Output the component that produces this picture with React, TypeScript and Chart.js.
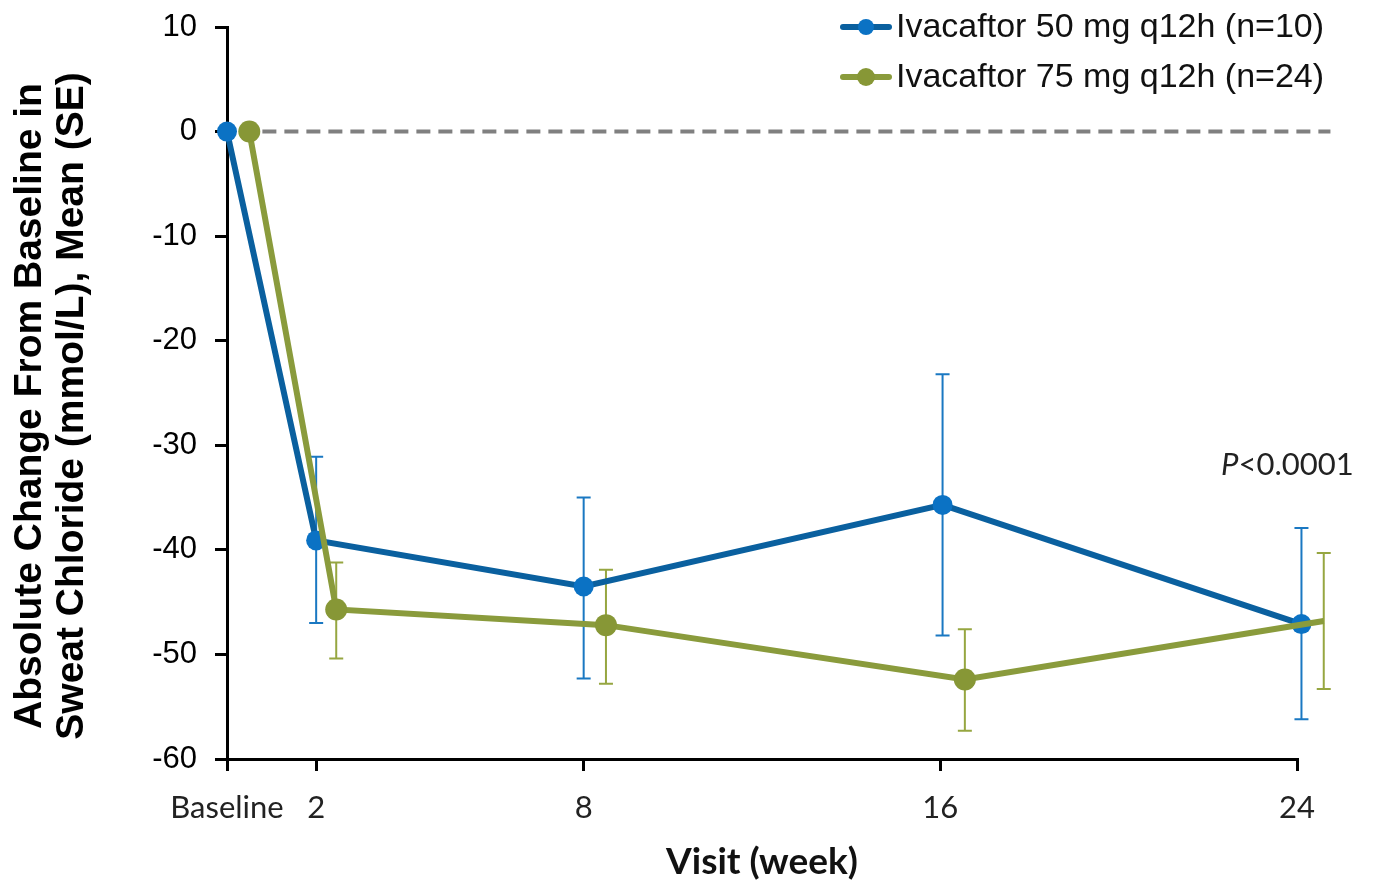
import React, { useEffect, useRef } from "react";
import { Chart, registerables } from "chart.js";

Chart.register(...registerables);

// ---- data ----
const weeks = [0, 2, 8, 16, 24];
const weekLabels = ["Baseline", "2", "8", "16", "24"];
const yTicks = [10, 0, -10, -20, -30, -40, -50, -60];

const seriesNames = ["Ivacaftor 50 mg q12h (n=10)", "Ivacaftor 75 mg q12h (n=24)"];
const yTitle = ["Absolute Change From Baseline in", "Sweat Chloride (mmol/L), Mean (SE)"];
const xTitle = "Visit (week)";

// plotted positions (weeks), green series slightly offset as in the source
const blueX = [0, 2, 8, 16.05, 24.1];
const greenX = [0.5, 2.45, 8.5, 16.55, 24.6];

const blueMean = [0, -39.1, -43.5, -35.7, -47.1];
const blueUpper = [null, -31.1, -35.0, -23.2, -37.9];
const blueLower = [null, -47.0, -52.3, -48.2, -56.2];

const greenMean = [0, -45.7, -47.2, -52.4, -46.8];
const greenUpper = [null, -41.2, -41.9, -47.6, -40.3];
const greenLower = [null, -50.4, -52.8, -57.3, -53.3];

const pText = ["P", "<0.0001"];

// ---- styles ----
const BLUE_LINE = "#0a609f";
const BLUE_MARK = "#0b72c4";
const BLUE_ERR = "#1a78c2";
const GREEN_LINE = "#8a9b3c";
const GREEN_MARK = "#879736";
const GREEN_ERR = "#96a641";

const ARIAL = "'Liberation Sans', Arial, sans-serif";
const CALIBRI = "Lato, 'Open Sans', sans-serif";

export default function App() {
  const ref = useRef<HTMLCanvasElement>(null);

  useEffect(() => {
    document.body.style.margin = "0";
    const canvas = ref.current!;

    const errorBars = {
      id: "errorBars",
      beforeDatasetsDraw(chart: any) {
        const { ctx } = chart;
        const xs = chart.scales.x;
        const ys = chart.scales.y;
        const draw = (xArr: number[], up: (number | null)[], lo: (number | null)[], color: string) => {
          ctx.save();
          ctx.strokeStyle = color;
          ctx.lineWidth = 2;
          for (let i = 0; i < xArr.length; i++) {
            const u = up[i];
            const l = lo[i];
            if (u == null || l == null) continue;
            const px = xs.getPixelForValue(xArr[i]);
            const pu = ys.getPixelForValue(u);
            const pl = ys.getPixelForValue(l);
            ctx.beginPath();
            ctx.moveTo(px, pu);
            ctx.lineTo(px, pl);
            ctx.moveTo(px - 7, pu);
            ctx.lineTo(px + 7, pu);
            ctx.moveTo(px - 7, pl);
            ctx.lineTo(px + 7, pl);
            ctx.stroke();
          }
          ctx.restore();
        };
        draw(blueX, blueUpper, blueLower, BLUE_ERR);
        draw(greenX, greenUpper, greenLower, GREEN_ERR);
      },
    };

    const overlay = {
      id: "overlay",
      afterDraw(chart: any) {
        const { ctx, chartArea } = chart;
        const xs = chart.scales.x;
        const ys = chart.scales.y;
        ctx.save();
        // y-axis title (two rotated lines)
        ctx.font = `bold 39px ${ARIAL}`;
        ctx.fillStyle = "#000";
        ctx.textAlign = "center";
        ctx.textBaseline = "middle";
        const midY = (chartArea.top + chartArea.bottom) / 2 + 13;
        yTitle.forEach((t, i) => {
          ctx.save();
          ctx.translate(30 + i * 42, midY);
          ctx.rotate(-Math.PI / 2);
          ctx.fillText(t, 0, 0);
          ctx.restore();
        });
        // legend
        const items = [
          { name: seriesNames[0], line: BLUE_LINE, mark: BLUE_MARK, r: 8 },
          { name: seriesNames[1], line: GREEN_LINE, mark: GREEN_MARK, r: 9 },
        ];
        items.forEach((it, i) => {
          const y = 27 + i * 50;
          ctx.strokeStyle = it.line;
          ctx.lineWidth = 6;
          ctx.lineCap = "round";
          ctx.beginPath();
          ctx.moveTo(843, y);
          ctx.lineTo(889, y);
          ctx.stroke();
          ctx.fillStyle = it.mark;
          ctx.beginPath();
          ctx.arc(866, y, it.r, 0, Math.PI * 2);
          ctx.fill();
          ctx.fillStyle = "#111";
          ctx.font = `34px ${ARIAL}`;
          ctx.textAlign = "left";
          ctx.textBaseline = "middle";
          ctx.fillText(it.name, 896, y + 1);
        });
        // p value
        const px = xs.getPixelForValue(24) - 76;
        const py = ys.getPixelForValue(-31.9);
        ctx.fillStyle = "#222";
        ctx.textAlign = "left";
        ctx.textBaseline = "middle";
        ctx.font = `italic 31px ${CALIBRI}`;
        ctx.fillText(pText[0], px, py);
        const w = ctx.measureText(pText[0]).width;
        ctx.font = `31px ${CALIBRI}`;
        ctx.fillText(pText[1], px + w, py);
        ctx.restore();
      },
    };

    const chart = new Chart(canvas, {
      type: "line",
      data: {
        datasets: [
          {
            label: seriesNames[1],
            data: greenX.map((x, i) => ({ x, y: greenMean[i] })),
            borderColor: GREEN_LINE,
            backgroundColor: GREEN_MARK,
            pointBackgroundColor: GREEN_MARK,
            pointBorderWidth: 0,
            pointRadius: 11,
            borderWidth: 6,
            tension: 0,
            clip: false,
          },
          {
            label: seriesNames[0],
            data: blueX.map((x, i) => ({ x, y: blueMean[i] })),
            borderColor: BLUE_LINE,
            backgroundColor: BLUE_MARK,
            pointBackgroundColor: BLUE_MARK,
            pointBorderWidth: 0,
            pointRadius: 10,
            borderWidth: 6,
            tension: 0,
            clip: false,
          },
          {
            label: "zero",
            data: [
              { x: 0.3, y: 0 },
              { x: 24.75, y: 0 },
            ],
            borderColor: "#808080",
            borderWidth: 4,
            borderDash: [14, 8],
            pointRadius: 0,
            clip: false,
          },
        ],
      } as any,
      options: {
        responsive: false,
        animation: false,
        events: [],
        layout: { padding: { left: 0, right: 77, top: 27, bottom: 0 } },
        plugins: { legend: { display: false }, tooltip: { enabled: false } },
        scales: {
          x: {
            type: "linear",
            min: 0,
            max: 24,
            afterBuildTicks: (s: any) => {
              s.ticks = weeks.map((v) => ({ value: v }));
            },
            afterFit: (s: any) => {
              s.height = 125;
              s.paddingLeft = 0;
              s.paddingRight = 0;
            },
            ticks: {
              callback: (v: any) => {
                const i = weeks.indexOf(Number(v));
                return i >= 0 ? weekLabels[i] : "";
              },
              font: { family: CALIBRI, size: 31 },
              color: "#222",
              padding: 18,
              maxRotation: 0,
              autoSkip: false,
            },
            grid: { drawOnChartArea: false, drawTicks: true, tickLength: 12, color: "#000", lineWidth: 3 },
            border: { color: "#000", width: 3 },
            title: {
              display: true,
              text: xTitle,
              font: { family: CALIBRI, size: 37, weight: "bold" },
              color: "#111",
              padding: { top: 0, bottom: 0 },
            },
          },
          y: {
            type: "linear",
            min: -60,
            max: 10,
            afterBuildTicks: (s: any) => {
              s.ticks = yTicks.map((v) => ({ value: v }));
            },
            afterFit: (s: any) => {
              s.width = 227;
              s.paddingTop = 0;
              s.paddingBottom = 0;
            },
            ticks: { font: { family: ARIAL, size: 31 }, color: "#000", padding: 18 },
            grid: { drawOnChartArea: false, drawTicks: true, tickLength: 12, color: "#000", lineWidth: 3 },
            border: { color: "#000", width: 3 },
            title: { display: false },
          },
        },
      } as any,
      plugins: [errorBars, overlay],
    });

    return () => chart.destroy();
  }, []);

  return <canvas ref={ref} width={1374} height={884} style={{ display: "block" }} />;
}
